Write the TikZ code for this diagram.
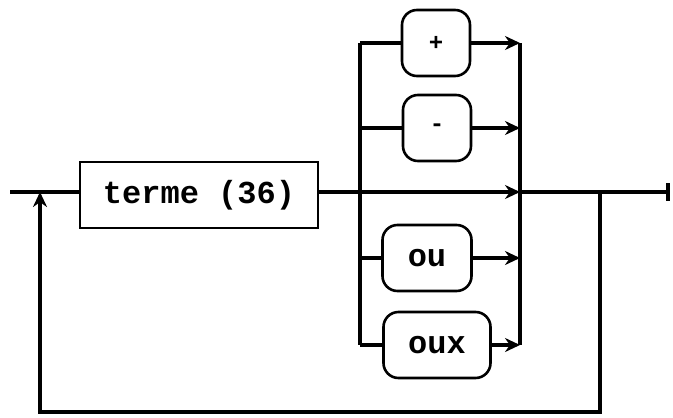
\documentclass[tikz,border=0pt]{standalone}
\usepackage{fontspec}
\setmonofont{Liberation Mono}
\usetikzlibrary{arrows.meta,positioning}

\begin{document}
\begin{tikzpicture}[
    x=1pt, y=-1pt,
    line width=3.4pt,
    termbox/.style={draw, rectangle, minimum width=238pt, minimum height=66pt, font=\ttfamily\bfseries\fontsize{32}{34}\selectfont, line width=2.6pt},
    symbox/.style={draw, rounded corners=15pt, minimum height=66pt, inner sep=0pt, font=\ttfamily\bfseries\fontsize{32}{34}\selectfont, line width=2.6pt},
    arr/.style={-{Stealth[length=15pt,width=14pt]}},
    endarr/.style={-{Bar[width=18pt,line width=4pt]}}
]
\useasboundingbox (0,0) rectangle (673,418);

% main line
\coordinate (start) at (10,192);
\coordinate (loopin) at (40,192);
\node[termbox] (terme) at (199,195) {terme (36)};
\coordinate (split) at (360,192);
\coordinate (merge) at (520,192);
\coordinate (tap) at (600,192);
\coordinate (fin) at (670,192);
\coordinate (loopbot) at (40,412);

% alternatives
\node[symbox, minimum width=68pt, font=\ttfamily\bfseries\fontsize{24}{26}\selectfont] (plus) at (436,43) {+};
\node[symbox, minimum width=68pt, font=\ttfamily\bfseries\fontsize{24}{26}\selectfont] (minus) at (437,128) {-};
\node[symbox, minimum width=89pt] (ou) at (427,258) {ou};
\node[symbox, minimum width=107pt] (oux) at (437,345) {oux};

\draw (start) -- (terme.west |- start);
\draw (terme.east |- split) -- (split);
\draw[arr] (split) -- (merge);
\draw[endarr] (merge) -- (fin);

\draw (split |- plus) -- (split |- oux);
\draw (merge |- plus) -- (merge |- oux);
\foreach \b in {plus,minus,ou,oux} {
  \draw (split |- \b) -- (\b.west);
  \draw[arr] (\b.east) -- (merge |- \b);
}

% loop back
\draw[arr] (tap) -- (tap |- loopbot) -- (loopbot) -- (loopin);
\end{tikzpicture}
\end{document}
